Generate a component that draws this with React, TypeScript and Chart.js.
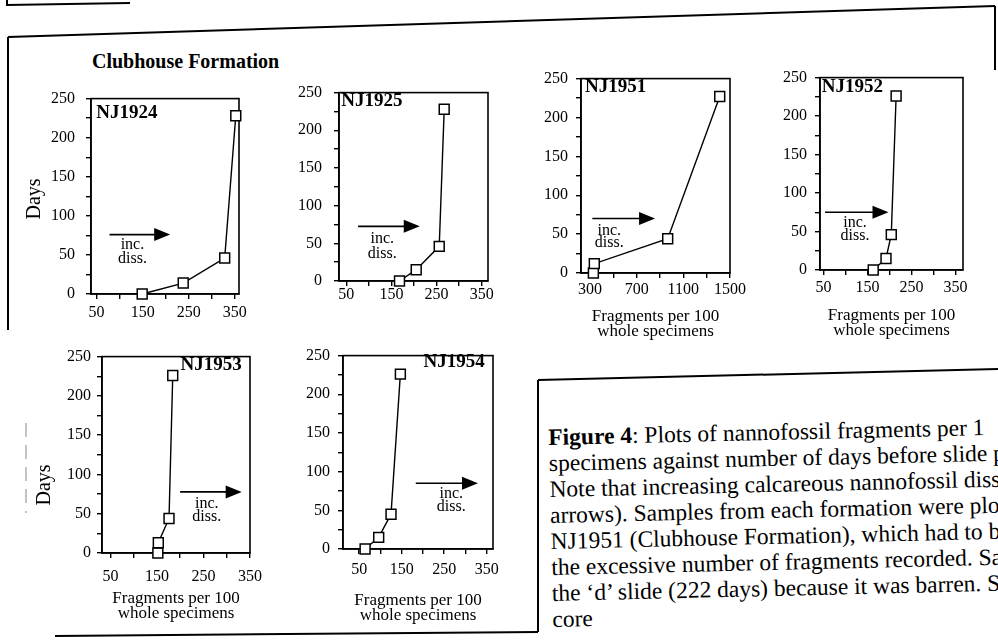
import React, { useEffect, useRef } from 'react';
import { Chart, registerables } from 'chart.js';

Chart.register(...registerables);

// ---------- data ----------
const nj1924Fragments = [149, 238, 328, 352];
const nj1924Days = [0, 14, 46, 228];
const nj1925Fragments = [168, 205, 256, 267];
const nj1925Days = [0, 15, 46, 228];
const nj1951Fragments = [329, 337, 966, 1412];
const nj1951Days = [0, 12, 44, 227];
const nj1952Fragments = [163, 192, 204, 215];
const nj1952Days = [0, 15, 46, 226];
const nj1953Fragments = [152, 153, 176, 184];
const nj1953Days = [0, 13, 44, 226];
const nj1954Fragments = [64, 96, 125, 147];
const nj1954Days = [0, 15, 45, 226];

const daysTickValues = [0, 25, 50, 75, 100, 125, 150, 175, 200, 225, 250];
const daysTickLabels = [0, 50, 100, 150, 200, 250];
const fragTickValues = [50, 100, 150, 200, 250, 300, 350];
const fragTickLabels = [50, 150, 250, 350];
const fragWideTickValues = [300, 500, 700, 900, 1100, 1300, 1500];
const fragWideTickLabels = [300, 700, 1100, 1500];

const yAxisTitle = 'Days';
const xAxisTitle = ['Fragments per 100', 'whole specimens'];
const arrowText = ['inc.', 'diss.'];
const formationTitle = 'Clubhouse Formation';
const captionLines = [
  'Plots of nannofossil fragments per 1',
  'specimens against number of days before slide p',
  'Note that increasing calcareous nannofossil disso',
  'arrows). Samples from each formation were plo',
  'NJ1951 (Clubhouse Formation), which had to be',
  'the excessive number of fragments recorded. Sa',
  'the \u2018d\u2019 slide (222 days) because it was barren. S',
  'core',
];

const SERIF = '"Liberation Serif", "Times New Roman", Times, serif';

type PanelSpec = {
  name: string;
  fragments: number[];
  days: number[];
  box: { l: number; t: number; r: number; b: number };
  xMin: number;
  xMax: number;
  wide: boolean;
  daysPos: { x: number; y: number } | null;
  xTitleOff: number | null;
  xLabelOff: number;
  yGap: number;
  nameAlign: 'left' | 'right';
  nameFx: number;
  nameFy: number;
  arrow: { x1: number; x2: number; y: number; tx: number; ty1: number; ty2: number };
};

const panels: PanelSpec[] = [
  {
    name: 'NJ1924', fragments: nj1924Fragments, days: nj1924Days,
    box: { l: 91, t: 92, r: 239, b: 294 }, xMin: 38, xMax: 359, wide: false,
    daysPos: { x: 35, y: 199 }, xTitleOff: null, xLabelOff: 19, yGap: 11,
    nameAlign: 'left', nameFx: 0.035, nameFy: 0.074,
    arrow: { x1: 0.125, x2: 0.535, y: 0.696, tx: 0.28, ty1: 0.748, ty2: 0.822 },
  },
  {
    name: 'NJ1925', fragments: nj1925Fragments, days: nj1925Days,
    box: { l: 339, t: 85, r: 488, b: 281 }, xMin: 34, xMax: 364, wide: false,
    daysPos: null, xTitleOff: null, xLabelOff: 14, yGap: 12,
    nameAlign: 'left', nameFx: 0.015, nameFy: 0.045,
    arrow: { x1: 0.128, x2: 0.542, y: 0.71, tx: 0.29, ty1: 0.775, ty2: 0.857 },
  },
  {
    name: 'NJ1951', fragments: nj1951Fragments, days: nj1951Days,
    box: { l: 581, t: 75, r: 730, b: 273 }, xMin: 223, xMax: 1500, wide: true,
    daysPos: null, xTitleOff: 44, xLabelOff: 17, yGap: 8,
    nameAlign: 'left', nameFx: 0.027, nameFy: 0.045,
    arrow: { x1: 0.076, x2: 0.497, y: 0.72, tx: 0.19, ty1: 0.782, ty2: 0.845 },
  },
  {
    name: 'NJ1952', fragments: nj1952Fragments, days: nj1952Days,
    box: { l: 820, t: 74, r: 963, b: 270 }, xMin: 42, xMax: 367, wide: false,
    daysPos: null, xTitleOff: 46, xLabelOff: 18, yGap: 8,
    nameAlign: 'left', nameFx: 0.012, nameFy: 0.048,
    arrow: { x1: 0.035, x2: 0.479, y: 0.7, tx: 0.245, ty1: 0.753, ty2: 0.821 },
  },
  {
    name: 'NJ1953', fragments: nj1953Fragments, days: nj1953Days,
    box: { l: 102, t: 355, r: 250, b: 553 }, xMin: 32, xMax: 350, wide: false,
    daysPos: { x: 45, y: 485 }, xTitleOff: 46, xLabelOff: 24, yGap: 6,
    nameAlign: 'right', nameFx: 0.944, nameFy: 0.045,
    arrow: { x1: 0.528, x2: 0.944, y: 0.689, tx: 0.708, ty1: 0.748, ty2: 0.815 },
  },
  {
    name: 'NJ1954', fragments: nj1954Fragments, days: nj1954Days,
    box: { l: 343, t: 352, r: 493, b: 549 }, xMin: 12, xMax: 365, wide: false,
    daysPos: null, xTitleOff: 52, xLabelOff: 21, yGap: 8,
    nameAlign: 'right', nameFx: 0.945, nameFy: 0.033,
    arrow: { x1: 0.485, x2: 0.9, y: 0.66, tx: 0.722, ty1: 0.717, ty2: 0.784 },
  },
];

const YW = 80;
const PT = 14;
const PR = 24;
const XH = 80;
const TICK_FONT = 16;
const TITLE_LH = 15;

const decorPlugin = {
  id: 'decor',
  beforeDatasetsDraw(chart: any, _args: any, opts: any) {
    const { ctx, chartArea: a } = chart;
    const w = a.right - a.left;
    const h = a.bottom - a.top;
    ctx.save();
    // plot frame
    ctx.strokeStyle = '#000';
    ctx.lineWidth = 1.6;
    ctx.strokeRect(a.left, a.top, w, h);
    // panel name
    ctx.fillStyle = '#000';
    ctx.font = `bold 19px ${SERIF}`;
    ctx.textBaseline = 'middle';
    ctx.textAlign = opts.nameAlign;
    ctx.fillText(opts.name, a.left + opts.nameFx * w, a.top + opts.nameFy * h);
    // dissolution arrow
    const ar = opts.arrow;
    const x1 = a.left + ar.x1 * w;
    const x2 = a.left + ar.x2 * w;
    const y = a.top + ar.y * h;
    ctx.lineWidth = 1.6;
    ctx.beginPath();
    ctx.moveTo(x1, y);
    ctx.lineTo(x2 - 10, y);
    ctx.stroke();
    ctx.beginPath();
    ctx.moveTo(x2, y);
    ctx.lineTo(x2 - 16, y - 6.5);
    ctx.lineTo(x2 - 16, y + 6.5);
    ctx.closePath();
    ctx.fill();
    ctx.font = `16px ${SERIF}`;
    ctx.textAlign = 'center';
    ctx.fillText(arrowText[0], a.left + ar.tx * w, a.top + ar.ty1 * h);
    ctx.fillText(arrowText[1], a.left + ar.tx * w, a.top + ar.ty2 * h);
    // y-axis title (only first column)
    if (opts.daysPos) {
      ctx.save();
      ctx.translate(opts.daysPos.x - opts.canvasLeft, opts.daysPos.y - opts.canvasTop);
      ctx.rotate(-Math.PI / 2);
      ctx.font = `20px ${SERIF}`;
      ctx.textAlign = 'center';
      ctx.textBaseline = 'middle';
      ctx.fillText(yAxisTitle, 0, 0);
      ctx.restore();
    }
    ctx.restore();
  },
};

function PanelChart({ p }: { p: PanelSpec }) {
  const ref = useRef<HTMLCanvasElement | null>(null);
  const W = p.box.r - p.box.l;
  const H = p.box.b - p.box.t;
  const cw = YW + W + PR;
  const ch = PT + H + XH;
  const canvasLeft = p.box.l - YW;
  const canvasTop = p.box.t - PT;

  useEffect(() => {
    if (!ref.current) return;
    const xTickVals = p.wide ? fragWideTickValues : fragTickValues;
    const xTickLabs = p.wide ? fragWideTickLabels : fragTickLabels;
    const tickFont = { family: SERIF, size: TICK_FONT, lineHeight: 1.2 };
    const xTickLen = 5;
    const xPad = p.xLabelOff - xTickLen - (TICK_FONT * 1.2) / 2;
    const titlePadBottom = p.xTitleOff !== null ? XH - TITLE_LH / 2 - TITLE_LH - p.xTitleOff : 0;

    const chart = new Chart(ref.current, {
      type: 'scatter',
      data: {
        datasets: [
          {
            label: p.name,
            data: p.fragments.map((x, i) => ({ x, y: p.days[i] })),
            showLine: true,
            borderColor: '#000',
            borderWidth: 1.4,
            tension: 0,
            pointStyle: 'rect',
            pointRadius: 7,
            pointHoverRadius: 7,
            pointBackgroundColor: '#fff',
            pointBorderColor: '#000',
            pointBorderWidth: 1.5,
            clip: false as any,
          },
        ],
      },
      options: {
        responsive: false,
        maintainAspectRatio: false,
        animation: false,
        events: [],
        layout: { padding: { top: PT, right: PR, left: 0, bottom: 0 } },
        plugins: {
          legend: { display: false },
          tooltip: { enabled: false },
          decor: {
            name: p.name,
            nameAlign: p.nameAlign,
            nameFx: p.nameFx,
            nameFy: p.nameFy,
            arrow: p.arrow,
            daysPos: p.daysPos,
            canvasLeft,
            canvasTop,
          },
        } as any,
        scales: {
          x: {
            type: 'linear',
            min: p.xMin,
            max: p.xMax,
            afterFit: (s: any) => {
              s.height = XH;
            },
            afterBuildTicks: (s: any) => {
              s.ticks = xTickVals.map((v) => ({ value: v }));
            },
            ticks: {
              autoSkip: false,
              maxRotation: 0,
              minRotation: 0,
              padding: xPad,
              color: '#000',
              font: tickFont,
              callback: (v: any) => (xTickLabs.includes(Number(v)) ? String(v) : ''),
            },
            grid: { display: true, drawOnChartArea: false, drawTicks: true, tickLength: xTickLen, color: '#000', lineWidth: 1.4 },
            border: { display: true, color: '#000', width: 1.6 },
            title: {
              display: p.xTitleOff !== null,
              text: xAxisTitle,
              color: '#000',
              font: { family: SERIF, size: 17, lineHeight: TITLE_LH / 17 },
              padding: { top: 0, bottom: titlePadBottom },
            },
          },
          y: {
            type: 'linear',
            min: 0,
            max: 250,
            afterFit: (s: any) => {
              s.width = YW;
            },
            afterBuildTicks: (s: any) => {
              s.ticks = daysTickValues.map((v) => ({ value: v }));
            },
            ticks: {
              autoSkip: false,
              padding: p.yGap,
              color: '#000',
              font: tickFont,
              callback: (v: any) => (daysTickLabels.includes(Number(v)) ? String(v) : ''),
            },
            grid: { display: true, drawOnChartArea: false, drawTicks: true, tickLength: 5, color: '#000', lineWidth: 1.4 },
            border: { display: true, color: '#000', width: 1.6 },
          },
        },
      },
      plugins: [decorPlugin],
    });
    return () => chart.destroy();
  }, []);

  return (
    <canvas
      ref={ref}
      width={cw}
      height={ch}
      style={{ position: 'absolute', left: canvasLeft, top: canvasTop, width: cw, height: ch }}
    />
  );
}

export default function App() {
  return (
    <div
      style={{
        position: 'fixed',
        left: 0,
        top: 0,
        width: 998,
        height: 640,
        overflow: 'hidden',
        background: '#fff',
        fontFamily: SERIF,
        color: '#000',
      }}
    >
      <svg width={998} height={640} style={{ position: 'absolute', left: 0, top: 0 }}>
        <g stroke="#000" strokeWidth={2} fill="none">
          <polyline points="7,0 7,5 130,3" />
          <line x1={8} y1={37} x2={995} y2={6} />
          <line x1={995} y1={6} x2={995} y2={70} />
          <line x1={8} y1={37} x2={8} y2={330} />
          <line x1={538} y1={380} x2={998} y2={369} />
          <line x1={538} y1={380} x2={538} y2={632} />
          <line x1={55} y1={636} x2={538} y2={632} />
        </g>
        <line x1={26} y1={423} x2={26} y2={513} stroke="#888" strokeWidth={1} strokeDasharray="14 8" />
      </svg>

      <div
        style={{
          position: 'absolute',
          left: 92,
          top: 51,
          fontSize: 20,
          lineHeight: '20px',
          fontWeight: 'bold',
          whiteSpace: 'nowrap',
        }}
      >
        {formationTitle}
      </div>

      {panels.map((p) => (
        <PanelChart key={p.name} p={p} />
      ))}

      <div
        style={{
          position: 'absolute',
          left: 548,
          top: 424,
          fontSize: 23.5,
          lineHeight: '26px',
          whiteSpace: 'pre',
          transform: 'rotate(-1.3deg)',
          transformOrigin: '0 0',
        }}
      >
        {captionLines.map((line, i) => (
          <div key={i}>
            {i === 0 ? <b>Figure 4</b> : null}
            {i === 0 ? ': ' : null}
            {line}
          </div>
        ))}
      </div>
    </div>
  );
}
